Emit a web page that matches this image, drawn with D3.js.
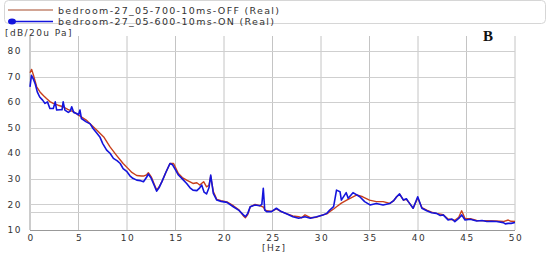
<!DOCTYPE html>
<html>
<head>
<meta charset="utf-8">
<script src="https://cdn.jsdelivr.net/npm/d3@7"></script>
<style>
  body { margin: 0; background: #fff; }
  text { font-family: "DejaVu Sans", Verdana, sans-serif; fill: #333; }
</style>
</head>
<body>
<svg id="chart"></svg>
<script>
// series: OFF (red) and ON (blue)
let offHz = [0, 0.17, 0.4, 0.69, 1.03, 1.4, 1.7, 2.05, 2.4, 2.9, 3.4, 3.9, 4.5, 5.0, 5.4, 5.8, 6.3, 6.9, 7.6, 8.25, 8.9, 9.6, 10.1, 10.5, 11.0, 11.5, 11.7, 12.0, 12.2, 12.5, 12.8, 13.06, 13.3, 13.6, 14.0, 14.43, 14.8, 15.3, 15.7, 16.15, 16.8, 17.2, 17.5, 17.9, 18.2, 18.45, 18.63, 18.9, 19.25, 19.7, 20.3, 20.96, 21.5, 22.0, 22.2, 22.45, 22.7, 23.2, 23.7, 24.05, 24.2, 24.4, 24.9, 25.4, 25.9, 26.5, 27.1, 27.7, 28.0, 28.35, 28.9, 29.55, 30.2, 30.6, 30.9, 31.3, 31.6, 32.1, 32.65, 33.2, 33.7, 34.3, 35.0, 35.7, 36.4, 37.1, 37.5, 37.8, 38.1, 38.5, 38.8, 39.0, 39.5, 39.97, 40.4, 40.9, 41.4, 41.9, 42.6, 43.1, 43.8, 44.2, 44.5, 44.85, 45.4, 46.05, 47.1, 48.1, 48.8, 49.3, 49.6, 50];
let offDb = [71.5, 72.8, 70, 66, 64, 62.5, 61.4, 60.2, 59.5, 58.8, 58.2, 57.2, 56.2, 54.9, 54, 53, 51.2, 49, 46.4, 42.5, 39.3, 36, 34.1, 32.5, 31.3, 31.1, 31.1, 31.5, 32.4, 30.8, 28, 25.6, 26.8, 28.9, 32.5, 36, 36, 32.1, 30.5, 29.5, 28.2, 28.5, 27.6, 28.9, 26.9, 27.5, 31, 25, 22, 21.5, 21, 19.5, 18, 15.5, 14.8, 16, 19, 20, 19.5, 19, 18, 17.5, 17.3, 18.3, 17.2, 16.3, 15.5, 15.2, 14.8, 15.9, 14.8, 15.0, 15.9, 16.3, 17.2, 18.2, 19.1, 20.5, 21.7, 22.8, 23.7, 23, 21.7, 21.1, 21.1, 20.4, 21.5, 23, 24, 21.7, 22, 21.1, 18.5, 22.5, 18.8, 17.8, 17, 16.5, 16, 14.3, 13.8, 15, 17.5, 14.5, 14.4, 13.7, 13.6, 13.5, 13.3, 13.9, 13.4, 13.3];

let onHz = [0, 0.15, 0.35, 0.55, 0.75, 1.0, 1.3, 1.55, 1.8, 2.05, 2.4, 2.6, 2.75, 3.1, 3.3, 3.42, 3.6, 3.95, 4.15, 4.3, 4.5, 4.8, 5.0, 5.15, 5.3, 5.8, 6.2, 6.5, 6.9, 7.2, 7.5, 7.9, 8.25, 8.6, 9.0, 9.3, 9.6, 10.0, 10.3, 10.6, 11.0, 11.4, 11.7, 12.0, 12.2, 12.5, 12.8, 13.06, 13.3, 13.6, 14.0, 14.43, 14.7, 15.0, 15.3, 15.7, 16.15, 16.5, 16.8, 17.2, 17.5, 17.7, 17.95, 18.2, 18.45, 18.63, 18.9, 19.25, 19.7, 20.3, 20.96, 21.5, 22.0, 22.2, 22.45, 22.7, 23.2, 23.7, 23.9, 24.05, 24.2, 24.4, 24.9, 25.4, 25.9, 26.5, 27.1, 27.7, 28.35, 28.9, 29.55, 30.2, 30.6, 30.9, 31.3, 31.6, 31.96, 32.1, 32.6, 32.8, 33.3, 34.0, 34.5, 35.05, 35.7, 36.4, 37.1, 37.5, 37.8, 38.1, 38.5, 38.8, 39.0, 39.5, 39.97, 40.4, 40.9, 41.4, 41.9, 42.3, 42.6, 43.1, 43.5, 43.8, 44.2, 44.5, 44.85, 45.4, 46.05, 46.6, 47.1, 47.6, 48.1, 48.8, 49.0, 49.3, 49.6, 50];
let onDb = [66, 70.5, 69, 67, 64, 62, 60.8, 59.5, 60.1, 57.5, 57.5, 60.1, 56.9, 57, 57, 60.1, 56.9, 56, 56.5, 58.2, 56, 55.6, 55, 56.9, 53.6, 52.3, 51.5, 49.7, 47.8, 46.4, 43.8, 41.25, 40, 38, 37, 36, 34, 32.8, 31.2, 30.2, 29.5, 29.3, 28.9, 30.5, 31.9, 30.2, 27.5, 25.2, 26.5, 28.9, 32.5, 36, 35.5, 33.5, 31.5, 30, 28.2, 26.5, 25.6, 25.4, 26.5, 27.6, 24.8, 24.1, 26.5, 31.5, 24.3, 21.7, 21.2, 20.8, 19.1, 17.8, 15.9, 15.2, 16.5, 19.1, 19.8, 19.5, 20, 26.3, 17.8, 17.2, 17.2, 18.5, 17.2, 16.25, 15.2, 14.6, 15.2, 14.6, 15.2, 15.9, 16.5, 17.8, 19.1, 25.6, 25, 21.7, 24.6, 22.4, 24.6, 23, 21.1, 19.8, 20.4, 19.8, 20.4, 21.5, 23, 24.1, 21.7, 22.2, 21.1, 18.5, 23, 18.5, 17.5, 16.75, 16.5, 15.7, 15.9, 13.9, 14.3, 13.3, 14.5, 15.9, 13.9, 14.2, 13.5, 13.7, 13.3, 13.4, 13.3, 12.9, 12.4, 12.6, 12.6, 12.9];

let xTicks = [0, 5, 10, 15, 20, 25, 30, 35, 40, 45, 50];
let yTicks = [10, 20, 30, 40, 50, 60, 70, 80];
let refLevel = 17.1;
let legendLabels = ["bedroom-27_05-700-10ms-OFF (Real)", "bedroom-27_05-600-10ms-ON (Real)"];

let width = 550;
let height = 257;

let svg = d3.select("#chart").attr("width", width).attr("height", height);

let x = d3.scaleLinear().domain([0, 50]).range([30, 515]);
let y = d3.scaleLinear().domain([10, 80]).range([230, 51]);
let plotTop = 36;

// grid
let grid = svg.append("g");
grid.selectAll("line.v").data(xTicks).enter().append("line")
  .attr("x1", d => x(d)).attr("x2", d => x(d))
  .attr("y1", plotTop).attr("y2", y(10))
  .attr("stroke", d => d === 0 ? "#999" : "#c4c4c4").attr("stroke-width", 1);
grid.selectAll("line.h").data(yTicks.concat([refLevel])).enter().append("line")
  .attr("x1", x(0)).attr("x2", x(50))
  .attr("y1", d => Math.round(y(d)) + 0.5).attr("y2", d => Math.round(y(d)) + 0.5)
  .attr("stroke", d => d === 10 ? "#999" : "#cfcfcf").attr("stroke-width", 1);

// tick labels
svg.append("g").selectAll("text").data(yTicks).enter().append("text")
  .attr("x", 22).attr("y", d => y(d)).attr("dy", "0.35em")
  .attr("text-anchor", "end").style("font-size", "9px").style("letter-spacing", "1.5px")
  .text(d => d);
svg.append("g").selectAll("text").data(xTicks).enter().append("text")
  .attr("x", d => x(d) + 1).attr("y", 241)
  .attr("text-anchor", "middle").style("font-size", "9px").style("letter-spacing", "1.5px")
  .text(d => d);

svg.append("text").attr("x", 5).attr("y", 36).style("font-size", "9px")
  .style("letter-spacing", "1.4px").text("[dB/20u Pa]");
svg.append("text").attr("x", 262).attr("y", 251).style("font-size", "9px")
  .style("letter-spacing", "1.5px").text("[Hz]");
svg.append("text").attr("x", 488).attr("y", 41).attr("text-anchor", "middle")
  .style("font-family", "'Liberation Serif', serif").style("font-weight", "bold")
  .style("font-size", "15px").style("fill", "#111").text("B");

// curves
let line = d3.line().x(d => x(d[0])).y(d => y(d[1]));
let plot = svg.append("g");
plot.append("path").datum(offHz.map((h, i) => [h, offDb[i]]))
  .attr("d", line).attr("fill", "none").attr("stroke", "#c8401c")
  .attr("stroke-width", 1.4).attr("stroke-linejoin", "round");
plot.append("path").datum(onHz.map((h, i) => [h, onDb[i]]))
  .attr("d", line).attr("fill", "none").attr("stroke", "#1414dc")
  .attr("stroke-width", 1.6).attr("stroke-linejoin", "round");

// legend
let legend = svg.append("g");
legend.append("rect").attr("x", 4.5).attr("y", 0.5).attr("width", 541).attr("height", 23)
  .attr("rx", 4).attr("fill", "none").attr("stroke", "#d6d6d6");
legend.append("line").attr("x1", 8).attr("x2", 53).attr("y1", 10).attr("y2", 10)
  .attr("stroke", "#d2a494").attr("stroke-width", 2);
legend.append("line").attr("x1", 10).attr("x2", 53).attr("y1", 21.5).attr("y2", 21.5)
  .attr("stroke", "#1414dc").attr("stroke-width", 1.4);
legend.append("ellipse").attr("cx", 12).attr("cy", 21.5).attr("rx", 4).attr("ry", 3)
  .attr("fill", "#1414dc");
legend.selectAll("text").data(legendLabels).enter().append("text")
  .attr("x", 58).attr("y", (d, i) => 13.5 + i * 11.7)
  .style("font-size", "9.5px")
  .attr("textLength", (d, i) => i === 0 ? 221 : 216).attr("lengthAdjust", "spacing")
  .text(d => d);
</script>
</body>
</html>
